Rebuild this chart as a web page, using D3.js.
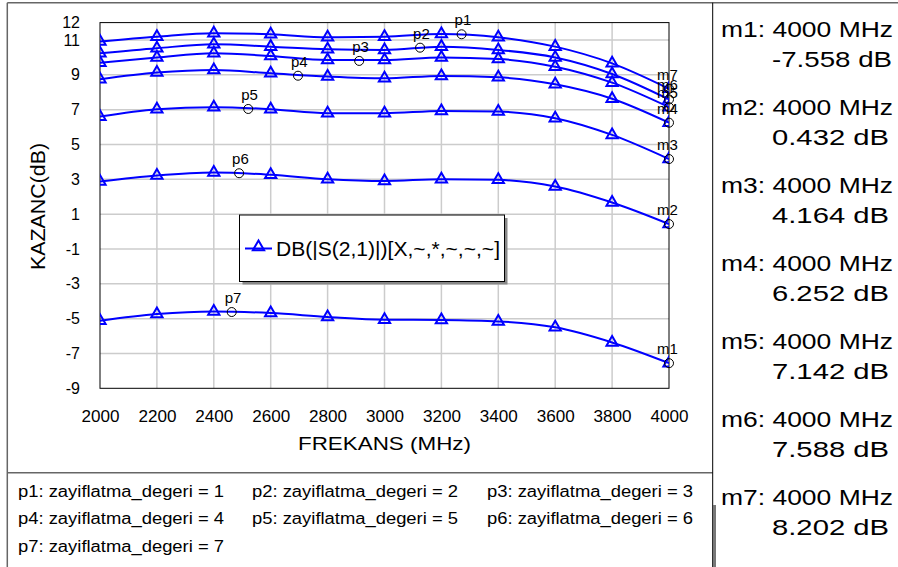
<!DOCTYPE html>
<html>
<head>
<meta charset="utf-8">
<script src="https://cdn.jsdelivr.net/npm/d3@7"></script>
<style>
body { margin: 0; background: #fff; }
text { font-family: Arial, "Liberation Sans", sans-serif; fill: #000; }
</style>
</head>
<body>
<div id="chart"></div>
<script>
// Data
var freqs = [2000, 2200, 2400, 2600, 2800, 3000, 3200, 3400, 3600, 3800, 4000];
var gainP1 = [10.92, 11.19, 11.39, 11.33, 11.16, 11.19, 11.35, 11.16, 10.62, 9.66, 8.202];
var gainP2 = [10.24, 10.53, 10.75, 10.62, 10.47, 10.43, 10.62, 10.43, 10.00, 9.05, 7.588];
var gainP3 = [9.70, 10.00, 10.24, 10.08, 9.85, 9.85, 10.00, 9.91, 9.47, 8.55, 7.142];
var gainP4 = [8.75, 9.13, 9.28, 9.09, 8.90, 8.80, 8.94, 8.86, 8.46, 7.63, 6.252];
var gainP5 = [6.60, 7.03, 7.14, 7.03, 6.80, 6.80, 6.93, 6.89, 6.51, 5.55, 4.164];
var gainP6 = [2.87, 3.22, 3.39, 3.26, 3.01, 2.91, 3.01, 2.97, 2.59, 1.67, 0.432];
var gainP7 = [-5.12, -4.74, -4.59, -4.68, -4.90, -5.06, -5.08, -5.16, -5.50, -6.37, -7.558];
var allGains = [gainP1, gainP2, gainP3, gainP4, gainP5, gainP6, gainP7];

// p markers placed on the curves
var pNames = ["p1", "p2", "p3", "p4", "p5", "p6", "p7"];
var pFreq = [3271, 3125, 2911, 2696, 2521, 2489, 2463];
var pGain = [11.33, 10.56, 9.80, 8.95, 7.04, 3.35, -4.62];

// m markers at 4000 MHz
var mNames = ["m1", "m2", "m3", "m4", "m5", "m6", "m7"];
var mFreq = 4000;
var mGain = [-7.558, 0.432, 4.164, 6.252, 7.142, 7.588, 8.202];

var xTicks = [2000, 2200, 2400, 2600, 2800, 3000, 3200, 3400, 3600, 3800, 4000];
var yTicks = [12, 11, 9, 7, 5, 3, 1, -1, -3, -5, -7, -9];

var paramLabels = ["p1: zayiflatma_degeri = 1", "p2: zayiflatma_degeri = 2", "p3: zayiflatma_degeri = 3",
    "p4: zayiflatma_degeri = 4", "p5: zayiflatma_degeri = 5", "p6: zayiflatma_degeri = 6",
    "p7: zayiflatma_degeri = 7"];
var legendLabel = "DB(|S(2,1)|)[X,~,*,~,~,~]";

var width = 898, height = 567;
var plot = {left: 100, right: 669, top: 22.6, bottom: 388.3};
var blue = "#0000ff";

var svg = d3.select("#chart").append("svg")
    .attr("width", width)
    .attr("height", height);

// Scales
var x = d3.scaleLinear().domain([2000, 4000]).range([plot.left, plot.right]);
var y = d3.scaleLinear().domain([-9, 12]).range([plot.bottom, plot.top]);

// plain hyphen minus, like the original
function num(d) { return String(d); }

// Outer frames
var frame = svg.append("g").attr("stroke", "#666").attr("stroke-width", 1.5);
frame.append("line").attr("x1", 7.3).attr("x2", 7.3).attr("y1", 2.7).attr("y2", height);
frame.append("line").attr("x1", 7.3).attr("x2", width).attr("y1", 2.7).attr("y2", 2.7);
frame.append("line").attr("x1", 7.3).attr("x2", 712.7).attr("y1", 472.7).attr("y2", 472.7);
svg.append("line").attr("x1", 712.7).attr("x2", 712.7).attr("y1", 2.7).attr("y2", height)
    .attr("stroke", "#000").attr("stroke-width", 1);
svg.append("rect").attr("x", 713).attr("y", 505).attr("width", 3).attr("height", height - 505)
    .attr("fill", "#777");

// Gridlines
var grid = svg.append("g").attr("stroke", "#cccccc").attr("stroke-width", 1.5);
grid.selectAll(".vgrid").data(xTicks.slice(1, -1)).enter().append("line")
    .attr("x1", function(d) { return x(d); })
    .attr("x2", function(d) { return x(d); })
    .attr("y1", plot.top).attr("y2", plot.bottom);
grid.selectAll(".hgrid").data(yTicks.slice(1, -1)).enter().append("line")
    .attr("x1", plot.left).attr("x2", plot.right)
    .attr("y1", function(d) { return y(d); })
    .attr("y2", function(d) { return y(d); });

// Plot border
svg.append("rect")
    .attr("x", plot.left).attr("y", plot.top)
    .attr("width", plot.right - plot.left).attr("height", plot.bottom - plot.top)
    .attr("fill", "none").attr("stroke", "#000").attr("stroke-width", 1);

// Axes
var xAxis = d3.axisBottom(x).tickValues(xTicks).tickSize(0).tickPadding(22).tickFormat(num);
var yAxis = d3.axisLeft(y).tickValues(yTicks).tickSize(0).tickPadding(20).tickFormat(num);

var gx = svg.append("g").attr("transform", "translate(0," + plot.bottom + ")").call(xAxis);
var gy = svg.append("g").attr("transform", "translate(" + plot.left + ",0)").call(yAxis);
[gx, gy].forEach(function(g) {
    g.select(".domain").remove();
    g.selectAll("text").style("font-size", "16px").attr("fill", "#000");
});
gx.selectAll("text").attr("textLength", 38).attr("lengthAdjust", "spacingAndGlyphs");

// Axis titles
svg.append("text")
    .attr("x", (plot.left + plot.right) / 2).attr("y", 450)
    .attr("text-anchor", "middle")
    .attr("textLength", 173).attr("lengthAdjust", "spacingAndGlyphs")
    .style("font-size", "19px")
    .text("FREKANS (MHz)");
svg.append("text")
    .attr("transform", "translate(45,206.5)rotate(-90)")
    .attr("text-anchor", "middle")
    .attr("textLength", 127).attr("lengthAdjust", "spacingAndGlyphs")
    .style("font-size", "20px")
    .text("KAZANC(dB)");

// Curves, clipped to plot
svg.append("clipPath").attr("id", "plotclip").append("rect")
    .attr("x", plot.left).attr("y", plot.top)
    .attr("width", plot.right - plot.left).attr("height", plot.bottom - plot.top);

var curves = svg.append("g").attr("clip-path", "url(#plotclip)");
var line = d3.line()
    .curve(d3.curveMonotoneX)
    .x(function(d, i) { return x(freqs[i]); })
    .y(function(d) { return y(d); });
var tri = d3.symbol().type(d3.symbolTriangle).size(55);

allGains.forEach(function(g) {
    curves.append("path")
        .attr("d", line(g))
        .attr("fill", "none").attr("stroke", blue).attr("stroke-width", 2);
    curves.selectAll(null).data(g).enter().append("path")
        .attr("d", tri)
        .attr("transform", function(d, i) { return "translate(" + x(freqs[i]) + "," + y(d) + ")"; })
        .attr("fill", "none").attr("stroke", blue).attr("stroke-width", 2);
});

// p markers
var pg = svg.append("g");
pNames.forEach(function(name, i) {
    pg.append("circle")
        .attr("cx", x(pFreq[i])).attr("cy", y(pGain[i])).attr("r", 4.5)
        .attr("fill", "none").attr("stroke", "#000").attr("stroke-width", 1);
    pg.append("text")
        .attr("x", x(pFreq[i]) - 7).attr("y", y(pGain[i]) - 9)
        .style("font-size", "15px")
        .text(name);
});

// m markers
mNames.forEach(function(name, i) {
    pg.append("circle")
        .attr("cx", x(mFreq)).attr("cy", y(mGain[i])).attr("r", 4.5)
        .attr("fill", "none").attr("stroke", "#000").attr("stroke-width", 1);
    pg.append("text")
        .attr("x", x(mFreq) - 12).attr("y", y(mGain[i]) - 9)
        .style("font-size", "15px")
        .text(name);
});

// Legend box
var lg = svg.append("g");
lg.append("rect").attr("x", 242.5).attr("y", 218).attr("width", 265).attr("height", 66.5).attr("fill", "#888");
lg.append("rect").attr("x", 239.5).attr("y", 215).attr("width", 265).attr("height", 66.5)
    .attr("fill", "#fff").attr("stroke", "#000").attr("stroke-width", 1);
lg.append("line").attr("x1", 245).attr("x2", 272).attr("y1", 248.5).attr("y2", 248.5)
    .attr("stroke", blue).attr("stroke-width", 2);
lg.append("path").attr("d", tri).attr("transform", "translate(258.5,247)")
    .attr("fill", "none").attr("stroke", blue).attr("stroke-width", 2);
lg.append("text").attr("x", 276).attr("y", 255.5)
    .attr("textLength", 224).attr("lengthAdjust", "spacingAndGlyphs")
    .style("font-size", "20px")
    .text(legendLabel);

// Parameter labels under the plot
var colX = [18, 252, 487];
var rowY = [497, 524.3, 551.7];
svg.selectAll(".plabel").data(paramLabels).enter().append("text")
    .attr("x", function(d, i) { return colX[i % 3]; })
    .attr("y", function(d, i) { return rowY[Math.floor(i / 3)]; })
    .attr("textLength", 206).attr("lengthAdjust", "spacingAndGlyphs")
    .style("font-size", "16px")
    .text(function(d) { return d; });

// Marker readout panel
mNames.forEach(function(name, i) {
    svg.append("text")
        .attr("x", 721).attr("y", 37 + i * 78)
        .attr("textLength", 172).attr("lengthAdjust", "spacingAndGlyphs")
        .style("font-size", "22px")
        .text(name + ": " + mFreq + " MHz");
    svg.append("text")
        .attr("x", 772).attr("y", 66.7 + i * 78)
        .attr("textLength", mGain[i] < 0 ? 120 : 117).attr("lengthAdjust", "spacingAndGlyphs")
        .style("font-size", "22px")
        .text(mGain[i].toFixed(3) + " dB");
});
</script>
</body>
</html>
